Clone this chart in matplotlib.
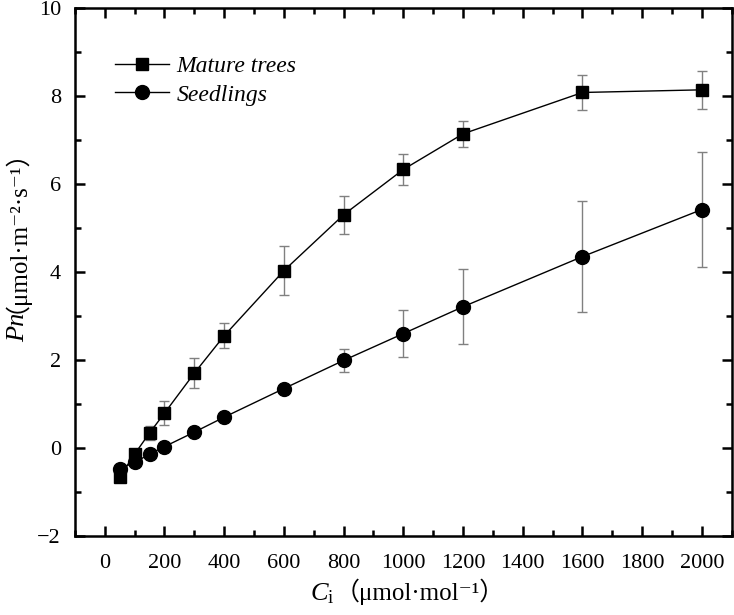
import numpy as np
import matplotlib
matplotlib.use("Agg")
import matplotlib.pyplot as plt
from matplotlib.ticker import MultipleLocator

plt.rcParams['font.family'] = ['Liberation Serif', 'DejaVu Serif', 'Noto Sans CJK SC']
plt.rcParams['mathtext.fontset'] = 'custom'
plt.rcParams['mathtext.rm'] = 'Liberation Serif'
plt.rcParams['mathtext.it'] = 'Liberation Serif:italic'

# data
ci = [50, 100, 150, 200, 300, 400, 600, 800, 1000, 1200, 1600, 2000]
mature = [-0.66, -0.14, 0.34, 0.79, 1.70, 2.55, 4.03, 5.30, 6.33, 7.14, 8.08, 8.14]
mature_err = [0.05, 0.06, 0.16, 0.27, 0.34, 0.28, 0.55, 0.43, 0.35, 0.30, 0.39, 0.43]
seedling = [-0.47, -0.33, -0.14, 0.03, 0.36, 0.70, 1.35, 1.99, 2.60, 3.21, 4.35, 5.42]
seedling_err = [0.05, 0.05, 0.06, 0.06, 0.07, 0.08, 0.09, 0.26, 0.54, 0.85, 1.27, 1.31]

fig = plt.figure(figsize=(7.34, 6.15), dpi=100)
ax = fig.add_axes([0.102, 0.1285, 0.895, 0.8585])

ax.errorbar(ci, mature, yerr=mature_err, fmt='none', ecolor='#808080',
            elinewidth=1, capsize=3.5, capthick=1)
l1, = ax.plot(ci, mature, color='black', lw=1, marker='s', ms=9,
              label='Mature trees')
ax.errorbar(ci, seedling, yerr=seedling_err, fmt='none', ecolor='#808080',
            elinewidth=1, capsize=3.5, capthick=1)
l2, = ax.plot(ci, seedling, color='black', lw=1, marker='o', ms=10,
              label='Seedlings')

ax.set_xlim(-100, 2100)
ax.set_ylim(-2, 10)
ax.xaxis.set_major_locator(MultipleLocator(200))
ax.xaxis.set_minor_locator(MultipleLocator(100))
ax.yaxis.set_major_locator(MultipleLocator(2))
ax.yaxis.set_minor_locator(MultipleLocator(1))
ax.tick_params(which='both', direction='in', top=True, right=True,
               labeltop=False, labelright=False, labelsize=16, width=1.8)
ax.tick_params(axis='x', pad=13)
ax.tick_params(axis='y', pad=10)
ax.tick_params(which='major', length=7)
ax.tick_params(which='minor', length=4)
ax.set_xticks(range(0, 2001, 200))
for s in ax.spines.values():
    s.set_linewidth(1.8)

leg = ax.legend(handles=[l1, l2], loc='upper left', bbox_to_anchor=(0.061, 0.91),
                frameon=False, borderpad=0, borderaxespad=0, handlelength=2.3,
                handletextpad=0.3, labelspacing=0.3,
                prop={'size': 17, 'style': 'italic'})

# x label
t1 = fig.text(0.423, 0.0245, r'$C_\mathrm{i}$', fontsize=19, va='baseline', ha='left')
ax.annotate('（μmol·mol⁻¹）', xy=(1, 0.0245), xycoords=(t1, 'figure fraction'),
            fontsize=18, va='baseline', ha='left', annotation_clip=False)

# y label
t2 = fig.text(0.025, 0.444, 'Pn', fontsize=19, style='italic', rotation=90,
              rotation_mode='anchor', ha='left', va='center')
ax.annotate('（μmol·m⁻²·s⁻¹）', xy=(0.025, 1), xycoords=('figure fraction', t2),
            xytext=(-11.5, 0), textcoords='offset points',
            fontsize=18, rotation=90, rotation_mode='anchor', ha='left',
            va='center', annotation_clip=False)

fig.savefig('out.png', dpi=100)
